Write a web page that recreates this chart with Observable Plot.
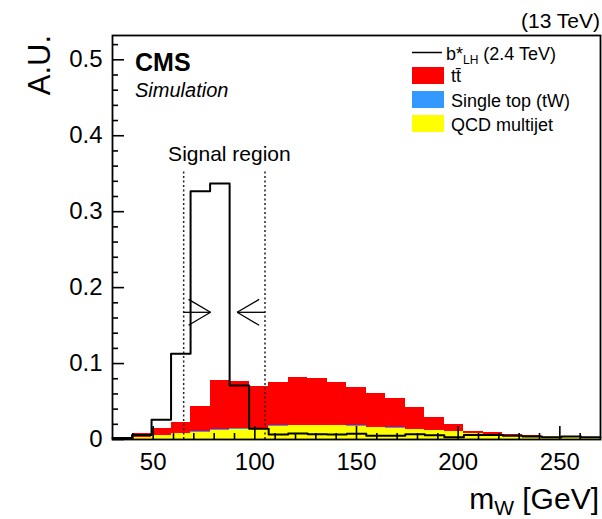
<!DOCTYPE html>
<html><head><meta charset="utf-8">
<script src="https://cdn.jsdelivr.net/npm/d3@7"></script>
<script src="https://cdn.jsdelivr.net/npm/@observablehq/plot@0.6"></script>
<style>
body{margin:0;background:#fff;}
#chart{width:602px;height:519px;}
</style>
</head><body><div id="chart"></div>
<script>
// ---- data ----
const binEdges = [30, 39.6, 49.2, 58.8, 68.4, 78, 87.6, 97.2, 106.8, 116.4, 126, 135.6, 145.2, 154.8, 164.4, 174, 183.6, 193.2, 202.8, 212.4, 222, 231.6, 241.2, 250.8, 260.4, 270];
const ttbar = [0.002, 0.006, 0.009, 0.0152, 0.0337, 0.0645, 0.0615, 0.056, 0.0572, 0.0624, 0.0615, 0.0566, 0.0512, 0.0437, 0.0383, 0.0293, 0.0169, 0.0094, 0.003, 0.0024, 0.0016, 0.0005, 0.0005, 0.0005, 0.0005];
const singleTop = [0, 0, 0, 0.0003, 0.0008, 0.0015, 0.0015, 0.001, 0.0008, 0.0006, 0.0005, 0.0004, 0.0003, 0.0003, 0.0002, 0.0002, 0.0001, 0.0001, 0, 0, 0, 0, 0, 0, 0];
const qcd = [0.001, 0.002, 0.005, 0.0075, 0.0095, 0.012, 0.013, 0.013, 0.017, 0.018, 0.018, 0.018, 0.0175, 0.016, 0.015, 0.013, 0.012, 0.0105, 0.008, 0.0066, 0.005, 0.0045, 0.004, 0.003, 0.0025];
const bstar = [0.002, 0.006, 0.026, 0.113, 0.327, 0.337, 0.071, 0.014, 0.0065, 0.008, 0.007, 0.0065, 0.0075, 0.005, 0.005, 0.007, 0.0055, 0.003, 0.006, 0.006, 0.005, 0.004, 0.003, 0.004, 0.003];

const seriesNames = ["tt\u0304", "Single top (tW)", "QCD multijet"];
const seriesColors = ["#ff0000", "#3399ff", "#ffff00"];
const stackOrder = ["QCD multijet", "Single top (tW)", "tt\u0304"];

const yMajor = [0, 0.1, 0.2, 0.3, 0.4, 0.5];
const yMinor = [0.02, 0.04, 0.06, 0.08, 0.12, 0.14, 0.16, 0.18, 0.22, 0.24, 0.26, 0.28, 0.32, 0.34, 0.36, 0.38, 0.42, 0.44, 0.46, 0.48, 0.52];
const xMajor = [50, 100, 150, 200, 250];
const xMinor = [40, 60, 70, 80, 90, 110, 120, 130, 140, 160, 170, 180, 190, 210, 220, 230, 240, 260];

const signalRegion = [65, 105];
const signalRegionTop = 0.354;
const signalLabel = "Signal region";
const signalLabelPos = {x: 87.5, y: 0.375};
const arrowY = 0.1675;
const arrowStarts = [65, 105];
const arrowTips = [78.2, 91.3];
const arrowHeadDX = 10.8;
const arrowHeadDY = 0.017;

// ---- tables built from the arrays ----
const stackRows = [];
binEdges.slice(0, -1).forEach((x1, i) => {
  const x2 = binEdges[i + 1];
  stackRows.push({x1, x2, series: "QCD multijet", value: qcd[i]});
  stackRows.push({x1, x2, series: "Single top (tW)", value: singleTop[i]});
  stackRows.push({x1, x2, series: "tt\u0304", value: ttbar[i]});
});
const sigSteps = binEdges.map((x, i) => ({x, y: bstar[Math.min(i, bstar.length - 1)]}));

const arrowSegs = [];
arrowTips.forEach((tip, i) => {
  const dir = Math.sign(tip - arrowStarts[i]);
  arrowSegs.push({x1: arrowStarts[i], y1: arrowY, x2: tip, y2: arrowY});
  arrowSegs.push({x1: tip - dir * arrowHeadDX, y1: arrowY + arrowHeadDY, x2: tip, y2: arrowY});
  arrowSegs.push({x1: tip - dir * arrowHeadDX, y1: arrowY - arrowHeadDY, x2: tip, y2: arrowY});
});

const FONT = "'Liberation Sans', Arial, Helvetica, sans-serif";
const W = 602, H = 519, ML = 112, MR = 2, MT = 35, MB = 80;
const frameW = W - ML - MR, frameH = H - MT - MB;

const svg = Plot.plot({
  width: W,
  height: H,
  marginLeft: ML,
  marginRight: MR,
  marginTop: MT,
  marginBottom: MB,
  style: {fontFamily: FONT, color: "black", background: "white"},
  x: {domain: [30, 270], axis: null},
  y: {domain: [0, 0.532], axis: null},
  color: {domain: seriesNames, range: seriesColors},
  marks: [
    Plot.rectY(stackRows, {x1: "x1", x2: "x2", y: "value", fill: "series", order: stackOrder, shapeRendering: "crispEdges"}),
    Plot.line(sigSteps, {x: "x", y: "y", curve: "step-after", stroke: "black", strokeWidth: 2}),
    Plot.ruleX(signalRegion, {y1: 0, y2: signalRegionTop, stroke: "#222", strokeWidth: 1.5, strokeDasharray: "2,2.5"}),
    Plot.link(arrowSegs, {x1: "x1", y1: "y1", x2: "x2", y2: "y2", stroke: "black", strokeWidth: 1.3}),
    Plot.text([signalLabel], {x: signalLabelPos.x, y: signalLabelPos.y, text: d => d, fontSize: 21, fill: "black"}),
    Plot.axisY({ticks: yMajor, tickSize: 0, tickPadding: 10, fontSize: 24, label: null, tickFormat: d => d === 0 ? "0" : d.toFixed(1)}),
    Plot.axisX({ticks: xMajor, tickSize: 0, tickPadding: 13, fontSize: 24, label: null, tickFormat: d => String(d)}),
    // inward ticks
    Plot.tickY(yMajor, {y: d => d, insetRight: frameW - 12, stroke: "black", strokeWidth: 1.6}),
    Plot.tickY(yMinor, {y: d => d, insetRight: frameW - 6, stroke: "black", strokeWidth: 1.6}),
    Plot.tickX(xMajor, {x: d => d, insetTop: frameH - 13, stroke: "black", strokeWidth: 1.6}),
    Plot.tickX(xMinor, {x: d => d, insetTop: frameH - 6, stroke: "black", strokeWidth: 1.6}),
    Plot.frame({stroke: "black", strokeWidth: 1.8})
  ]
});

document.getElementById("chart").appendChild(svg);

// ---- annotations & legend ----
const s = d3.select(svg);
const g = s.append("g").attr("font-family", FONT).attr("fill", "black").attr("text-anchor", "start");

g.append("text").attr("x", 600).attr("y", 28).attr("text-anchor", "end").attr("font-size", 21).text("(13 TeV)");
g.append("text").attr("x", 135).attr("y", 71).attr("font-size", 25).attr("font-weight", "bold").text("CMS");
g.append("text").attr("x", 135).attr("y", 97).attr("font-size", 20).attr("font-style", "italic").text("Simulation");

g.append("text").attr("transform", "translate(50,35) rotate(-90)").attr("text-anchor", "end").attr("font-size", 31).text("A.U.");

const xl = g.append("text").attr("x", 599).attr("y", 509).attr("text-anchor", "end").attr("font-size", 30);
xl.append("tspan").text("m");
xl.append("tspan").attr("font-size", 21).attr("dy", 6).text("W");
xl.append("tspan").attr("dy", -6).text(" [GeV]");

// legend
g.append("line").attr("x1", 412).attr("x2", 442).attr("y1", 52.5).attr("y2", 52.5).attr("stroke", "black").attr("stroke-width", 1.5);
const l1 = g.append("text").attr("x", 446).attr("y", 60).attr("font-size", 18);
l1.append("tspan").text("b*");
l1.append("tspan").attr("font-size", 12).attr("dy", 4).text("LH");
l1.append("tspan").attr("dy", -4).text(" (2.4 TeV)");

const legRows = [{y: 67, tb: 82}, {y: 91, tb: 106.5}, {y: 115, tb: 130.5}];
seriesNames.forEach((name, i) => {
  g.append("rect").attr("x", 412).attr("y", legRows[i].y).attr("width", 32).attr("height", 17).attr("fill", seriesColors[i]);
  g.append("text").attr("x", 451).attr("y", legRows[i].tb).attr("font-size", 18).text(name);
});
</script>
</body></html>
